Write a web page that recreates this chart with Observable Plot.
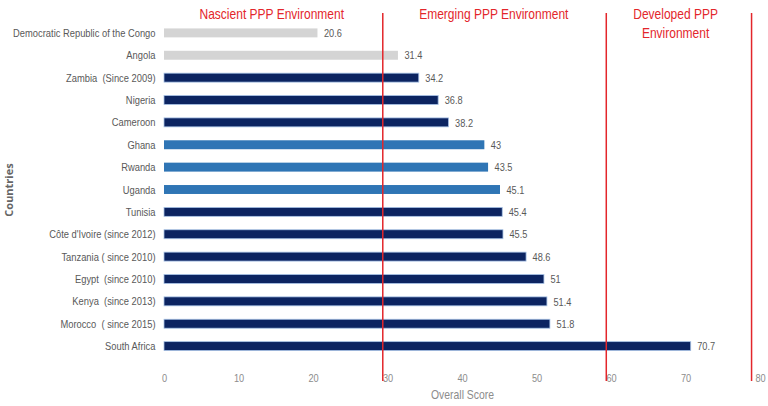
<!DOCTYPE html>
<html>
<head>
<meta charset="utf-8">
<script src="https://cdn.jsdelivr.net/npm/d3@7"></script>
<script src="https://cdn.jsdelivr.net/npm/@observablehq/plot@0.6"></script>
<style>
  html, body { margin: 0; padding: 0; background: #fff; }
  #chart { width: 768px; height: 406px; }
</style>
</head>
<body>
<div id="chart"></div>
<script>
const countries = [
  "Democratic Republic of the Congo",
  "Angola",
  "Zambia  (Since 2009)",
  "Nigeria",
  "Cameroon",
  "Ghana",
  "Rwanda",
  "Uganda",
  "Tunisia",
  "Côte d'Ivoire (since 2012)",
  "Tanzania ( since 2010)",
  "Egypt  (since 2010)",
  "Kenya  (since 2013)",
  "Morocco  ( since 2015)",
  "South Africa"
];
const scores = [20.6, 31.4, 34.2, 36.8, 38.2, 43, 43.5, 45.1, 45.4, 45.5, 48.6, 51, 51.4, 51.8, 70.7];
const groups = ["G1","G1","G3","G3","G3","G2","G2","G2","G3","G3","G3","G3","G3","G3","G3"];
const xTicks = [0, 10, 20, 30, 40, 50, 60, 70, 80];
const thresholds = [29.3, 59.3, 78.8];
const zoneLabels = ["Nascient PPP Environment", "Emerging PPP Environment", "Developed PPP\nEnvironment"];
const zoneLabelX = [14.4, 44.2, 68.6];

const data = countries.map((c, i) => ({country: c, score: scores[i], group: groups[i]}));
const zones = zoneLabels.map((t, i) => ({label: t, x: zoneLabelX[i]}));

const grey = "#595959";
const chart = Plot.plot({
  width: 768,
  height: 406,
  marginLeft: 164,
  marginRight: 8,
  marginTop: 15,
  marginBottom: 42,
  style: {fontFamily: "'Liberation Sans', Arial, sans-serif", fontSize: "11px", color: grey, background: "#fff"},
  x: {domain: [0, 80]},
  y: {domain: countries, padding: 0.6, round: false},
  color: {domain: ["G1","G2","G3"], range: ["#d4d4d4", "#2f75b5", "#0c2461"]},
  marks: [
    Plot.barX(data, {x: "score", y: "country", fill: "group", stroke: d => d.group === "G3" ? "#a8c3e6" : "none", strokeWidth: 0.8}),
    Plot.text(data, {x: "score", y: "country", text: d => String(d.score), textAnchor: "start", dx: 6, fill: grey, fontSize: 11.5}),
    Plot.axisY({tickSize: 0, tickPadding: 9, fill: grey, fontSize: 11, label: "Countries", labelAnchor: "center", labelOffset: 159, labelArrow: "none"}),
    Plot.axisX({ticks: xTicks, tickSize: 0, tickPadding: 9, fill: "#8c8c8c", fontSize: 11.5, label: "Overall Score", labelAnchor: "center", labelOffset: 34, labelArrow: "none"}),
    Plot.ruleX(thresholds, {stroke: "#e3262b", strokeWidth: 1.5, insetTop: -2, insetBottom: -17}),
    Plot.text(zones, {x: "x", text: "label", frameAnchor: "top", lineAnchor: "top", dy: -10, fill: "#e3262b", fontSize: 15, lineHeight: 1.25})
  ]
});
document.getElementById("chart").appendChild(chart);
const ylab = d3.select(chart).selectAll("g[aria-label='y-axis label'] text");
ylab.attr("font-weight", "bold").attr("font-family", "'Open Sans', sans-serif").attr("font-size", 11).attr("fill", "#666");
d3.select(chart).selectAll("g[aria-label='x-axis label'] text").attr("font-size", 13);
// emulate a condensed (Calibri-like) face
d3.select(chart).selectAll("text").each(function() {
  if (this.closest("g[aria-label='y-axis label']")) return;
  const squeeze = this.closest("g[aria-label='y-axis tick label']") ? 0.85 : 0.8;
  const tspans = this.querySelectorAll("tspan");
  const els = tspans.length ? Array.from(tspans) : [this];
  els.forEach(el => {
    const len = el.getComputedTextLength();
    if (len > 0) {
      el.setAttribute("textLength", (len * squeeze).toFixed(2));
      el.setAttribute("lengthAdjust", "spacingAndGlyphs");
    }
  });
});
</script>
</body>
</html>
